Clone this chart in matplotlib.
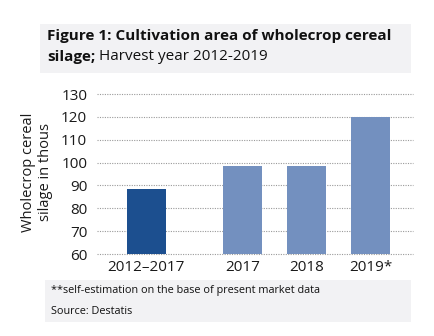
import matplotlib.pyplot as plt
from matplotlib.patches import Rectangle

plt.rcParams['font.family'] = ['Open Sans', 'DejaVu Sans']

# data
categories = ["2012\u20132017", "2017", "2018", "2019*"]
positions = [0, 1.5, 2.5, 3.5]
values = [88.3, 98.7, 98.7, 120.0]
bar_colors = ["#1c4f8f", "#7390bf", "#7390bf", "#7390bf"]
y_ticks = [60, 70, 80, 90, 100, 110, 120, 130]

W, H = 435, 336
fig = plt.figure(figsize=(W / 100, H / 100), dpi=100)
fig.patch.set_facecolor("white")


def px_box(x0, y0, x1, y1):
    # pixel box (top-left origin) -> figure fraction rect
    return [x0 / W, 1 - y1 / H, (x1 - x0) / W, (y1 - y0) / H]


# grey title and footer panels
for (x0, y0, x1, y1) in [(40, 24, 411, 73), (45, 280, 411, 322)]:
    l, b, w, h = px_box(x0, y0, x1, y1)
    fig.patches.append(Rectangle((l, b), w, h, transform=fig.transFigure,
                                 facecolor="#f2f2f4", edgecolor="none", zorder=0))

ax = fig.add_axes(px_box(97, 94, 413, 254))
ax.set_facecolor("none")
ax.bar(positions, values, width=0.6, color=bar_colors, bottom=0, zorder=3)
ax.set_ylim(60, 130)
ax.set_xlim(-0.77, 4.16)
ax.set_yticks(y_ticks)
ax.set_xticks(positions)
ax.set_xticklabels(categories)
ax.tick_params(axis="both", length=0, labelsize=11, colors="#1a1a1a")
ax.tick_params(axis="y", pad=7)
ax.tick_params(axis="x", pad=4)
for s in ax.spines.values():
    s.set_visible(False)
ax.yaxis.grid(True, linestyle=(0, (1, 1.2)), color="#9a9a9a", linewidth=0.8, zorder=0)
for gl in ax.get_ygridlines():
    gl.set_clip_on(False)

fig.text(37 / W, 1 - 172 / H, "Wholecrop cereal\nsilage in thous", rotation=90,
         ha="center", va="center", fontsize=10.5, color="#1a1a1a", linespacing=1.2)

# title: bold + regular mix on the second line
fig.text(47 / W, 1 - 36 / H, "Figure 1: Cultivation area of wholecrop cereal",
         fontsize=11, fontweight="bold", va="center", ha="left", color="#111111")
t1 = fig.text(47 / W, 1 - 57 / H, "silage;", fontsize=11, fontweight="bold",
              va="center", ha="left", color="#111111")
fig.canvas.draw()
bb = t1.get_window_extent(fig.canvas.get_renderer())
fig.text(bb.x1 / W + 4 / W, 1 - 57 / H, "Harvest year 2012-2019", fontsize=11,
         va="center", ha="left", color="#111111")

fig.text(51 / W, 1 - 291 / H, "**self-estimation on the base of present market data",
         fontsize=7.8, va="center", ha="left", color="#111111")
fig.text(51 / W, 1 - 311 / H, "Source: Destatis", fontsize=7.8,
         va="center", ha="left", color="#111111")

fig.savefig("out.png", dpi=100)
